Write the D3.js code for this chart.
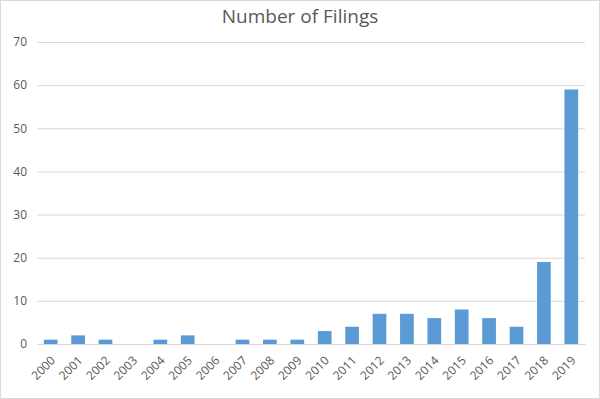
<!DOCTYPE html>
<html><head><meta charset="utf-8">
<script src="https://cdn.jsdelivr.net/npm/d3@7"></script>
<style>body{margin:0;background:#fff}svg{display:block}</style>
</head><body>
<script>
const years = ["2000","2001","2002","2003","2004","2005","2006","2007","2008","2009","2010","2011","2012","2013","2014","2015","2016","2017","2018","2019"];
const filings = [1,2,1,0,1,2,0,1,1,1,3,4,7,7,6,8,6,4,19,59];
const yTicks = [0,10,20,30,40,50,60,70];
const title = "Number of Filings";

const W=600,H=399;
const svg=d3.select("body").append("svg").attr("width",W).attr("height",H);
svg.append("rect").attr("x",0.5).attr("y",0.5).attr("width",W-1).attr("height",H-1).attr("fill","#fff").attr("stroke","#D9D9D9");
const font="Open Sans, Liberation Sans, sans-serif";
const x=d3.scaleBand().domain(years).range([37,585]).paddingInner(0.5).paddingOuter(0.25);
const y=d3.scaleLinear().domain([0,70]).range([344,42]);

const gy=svg.append("g").attr("transform","translate(37,0)").call(d3.axisLeft(y).tickValues(yTicks).tickSize(-548).tickPadding(10));
gy.select(".domain").remove();
gy.selectAll("line").attr("stroke","#D9D9D9");
gy.selectAll("text").attr("fill","#595959").style("font-family",font).style("font-size","12px");

svg.append("g").selectAll("rect").data(filings).join("rect")
 .attr("x",(d,i)=>x(years[i])).attr("width",x.bandwidth())
 .attr("y",d=>y(d)).attr("height",d=>y(0)-y(d)).attr("fill","#5B9BD5");

const gx=svg.append("g").attr("transform","translate(0,344)").call(d3.axisBottom(x).tickSize(0).tickPadding(0));
gx.select(".domain").attr("stroke","#D9D9D9");
gx.selectAll("text").attr("fill","#595959").style("font-family",font).style("font-size","12px")
 .attr("text-anchor","end").attr("dy",null).attr("transform","translate(3,15) rotate(-45)").attr("y",0).attr("x",0).attr("dominant-baseline","middle");

svg.append("text").attr("x",300).attr("y",23).attr("text-anchor","middle").attr("fill","#595959")
 .style("font-family",font).style("font-size","19px").text(title);
</script>
</body></html>
